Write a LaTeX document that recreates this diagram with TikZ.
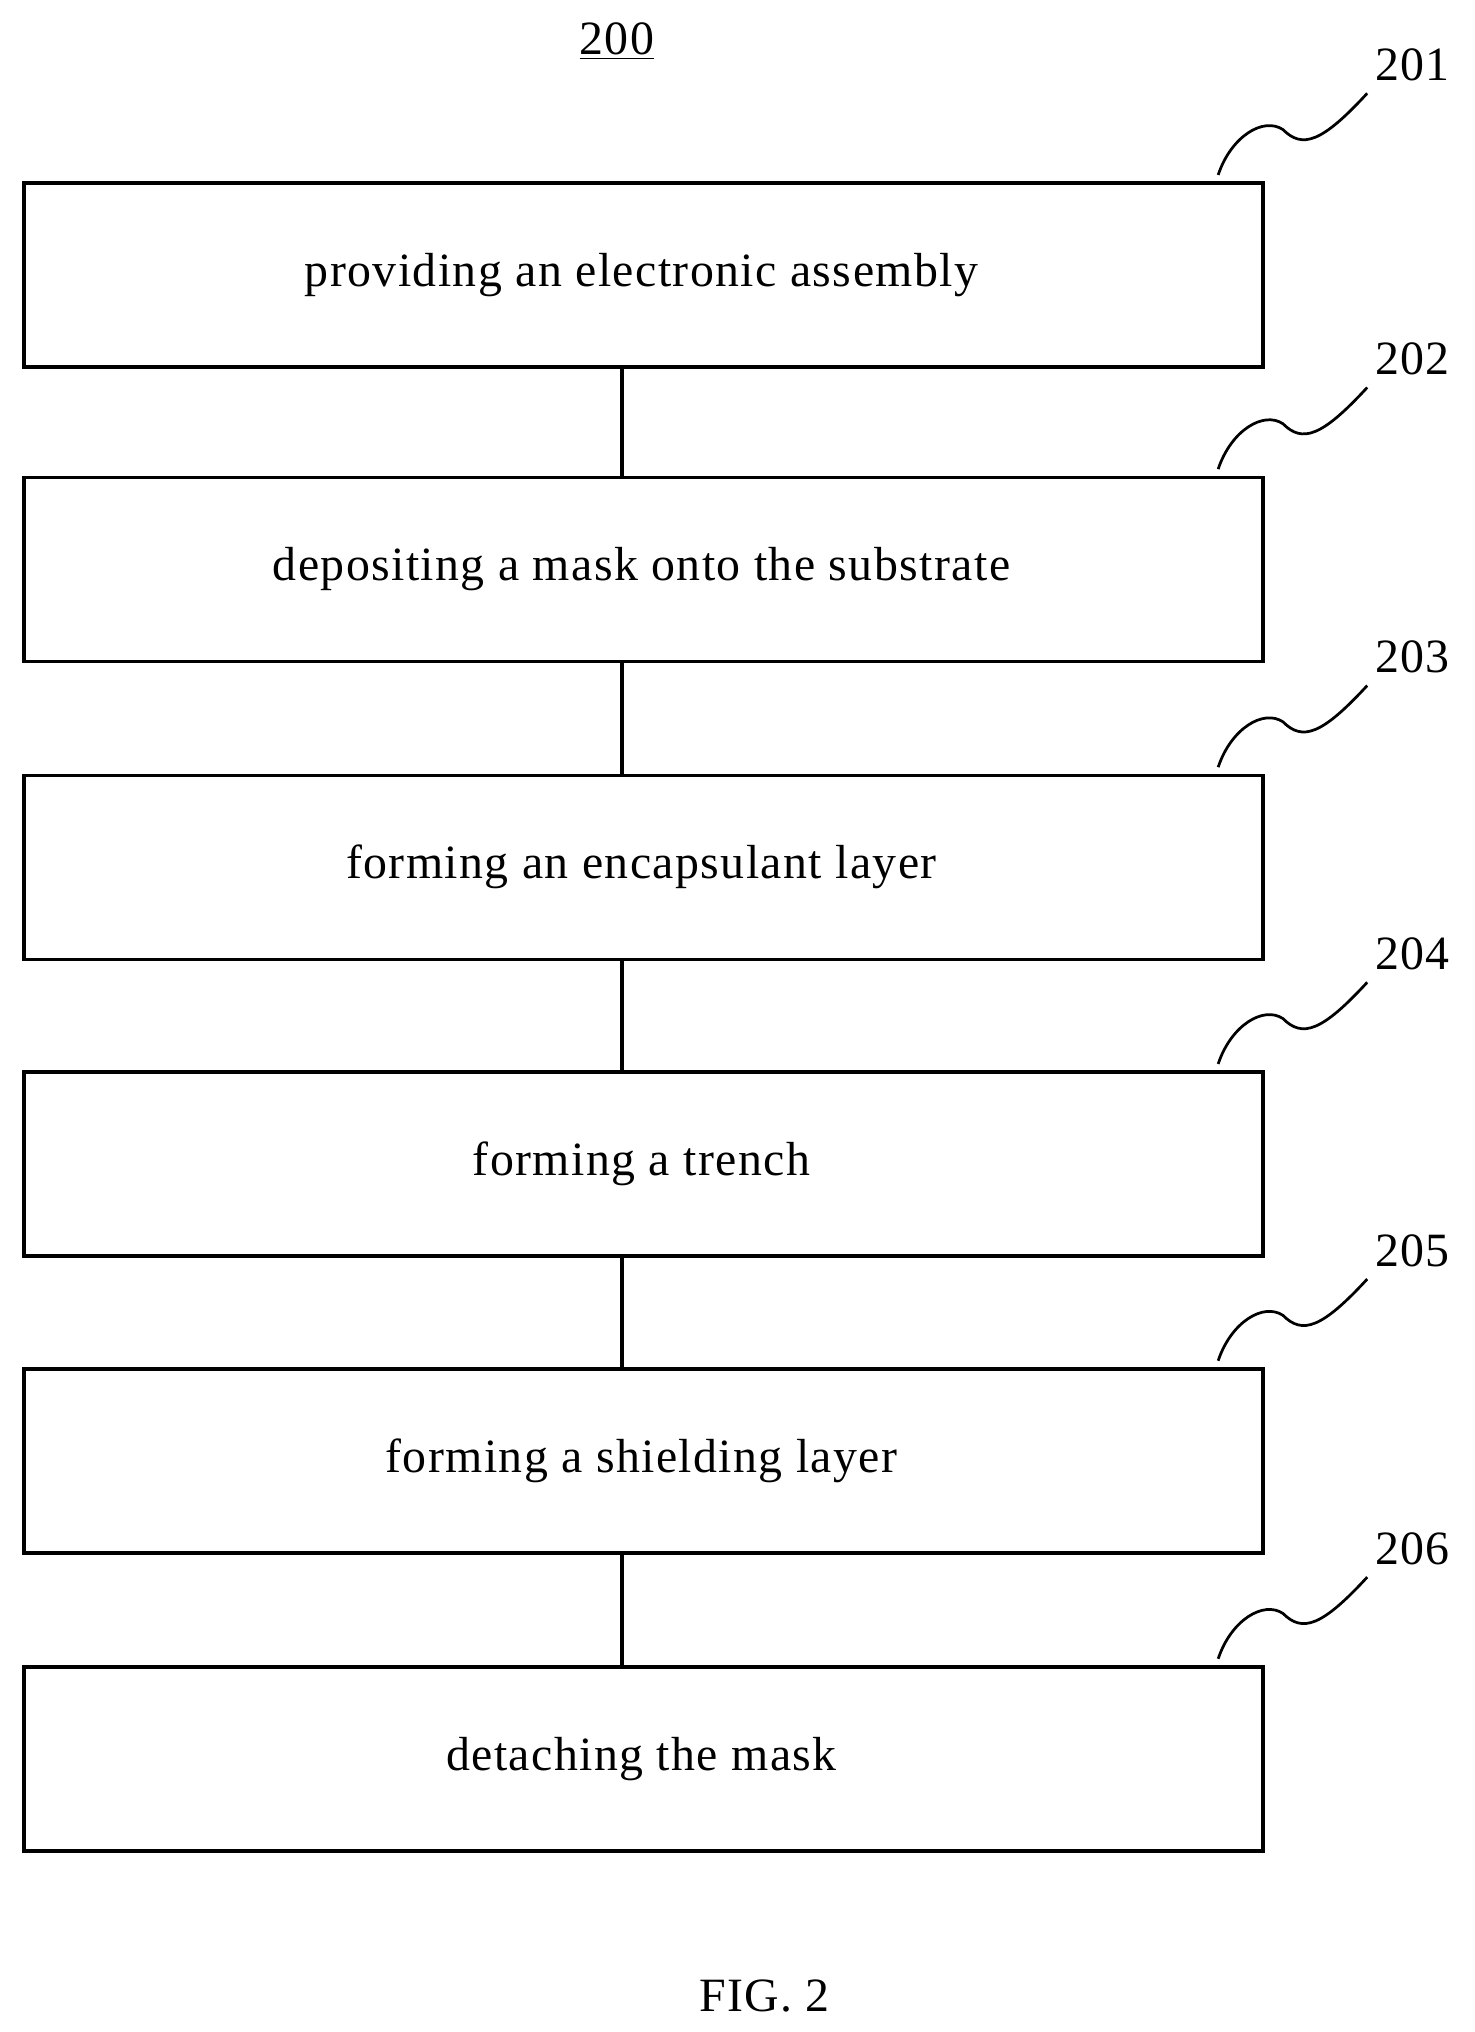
\documentclass[tikz,border=0pt]{standalone}
\usepackage{fontspec}
\setmainfont{Liberation Serif}[LetterSpace=3]
\begin{document}
\begin{tikzpicture}[x=0.02cm,y=-0.02cm,
  box/.style={draw,line width=1.6pt,minimum width=956*0.02cm,minimum height=142*0.02cm,anchor=north west,inner sep=0pt},
  lab/.style={font=\fontsize{21}{25}\selectfont},
  sq/.style={line width=1.2pt}]
\useasboundingbox (0,0) rectangle (1138,1568);
\node[lab] (t) at (476,32) {\underline{200}};
\foreach \i/\y/\t in {1/140/providing an electronic assembly,2/367/depositing a mask onto the substrate,3/597/forming an encapsulant layer,4/826/forming a trench,5/1055/forming a shielding layer,6/1285/detaching the mask}{
  \node[box] (b\i) at (17,\y) {};
  \node[lab] (x\i) at (495,\y+72) {\t};
  \coordinate (s\i) at (940,\y-5);
  \node[lab] (n\i) at (1090,\y-90) {20\i};
  \draw[sq] (s\i) .. controls (950,\y-35) and (975,\y-50) .. (990,\y-40) .. controls (1005,\y-25) and (1020,\y-30) .. (1055,\y-68);
}
\foreach \a/\b in {1/2,2/3,3/4,4/5,5/6}{\draw[line width=1.6pt] (480,0 |- b\a.south) -- (480,0 |- b\b.north);}
\node[lab] (f) at (590,1540) {FIG. 2};
\end{tikzpicture}
\end{document}
